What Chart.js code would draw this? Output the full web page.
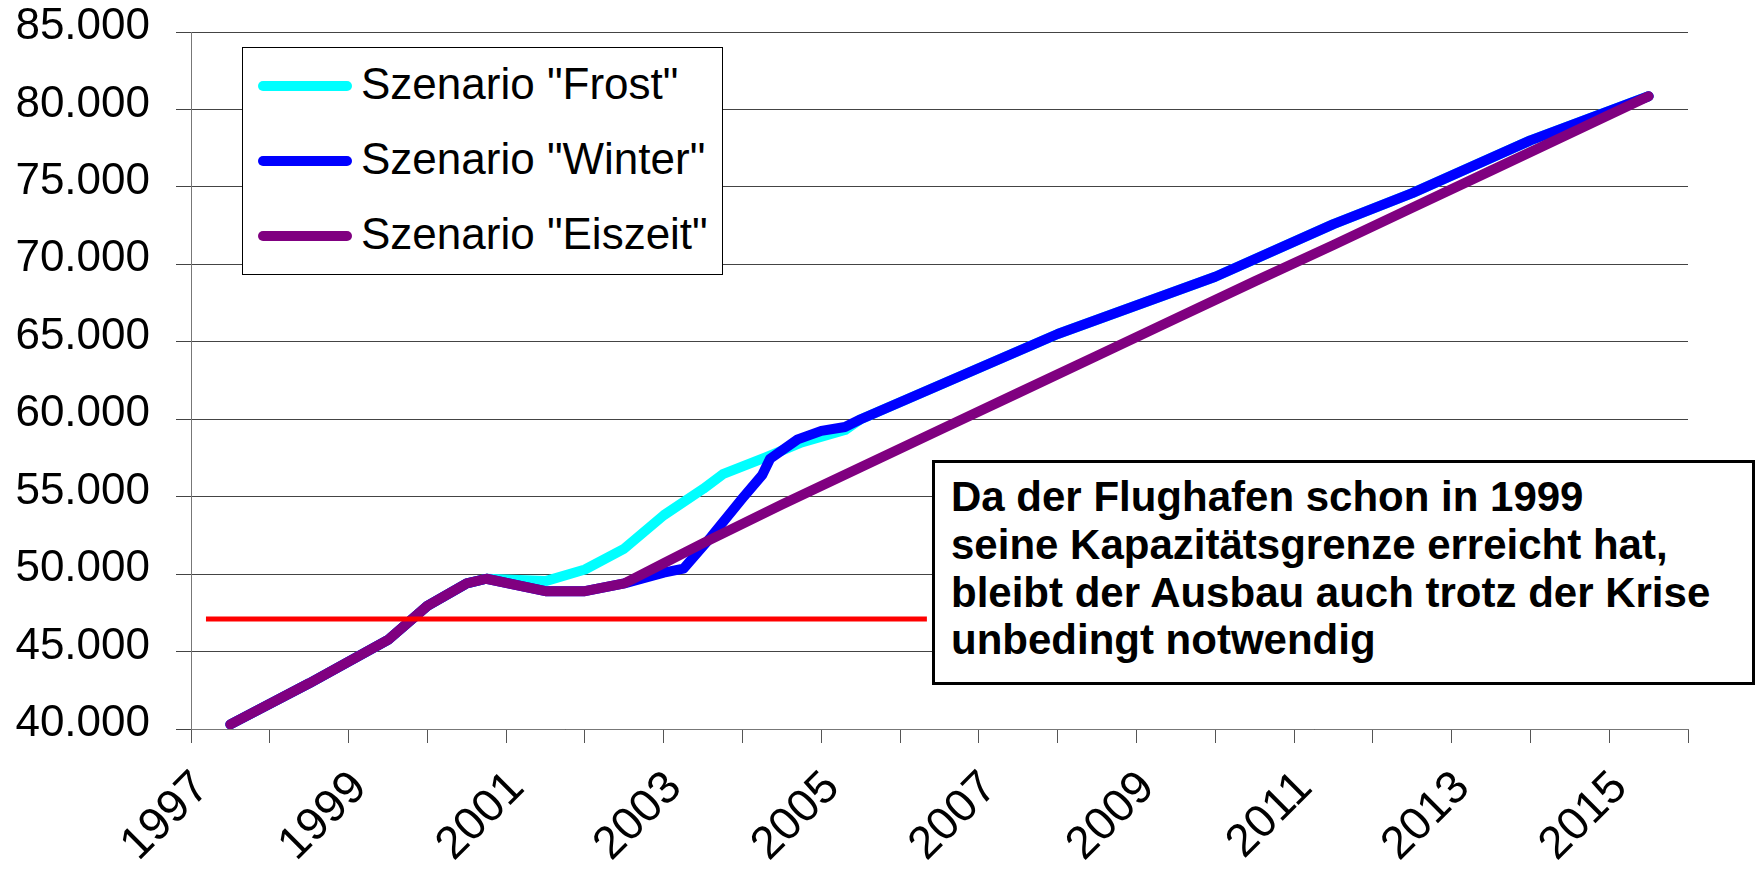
<!DOCTYPE html>
<html lang="de">
<head>
<meta charset="utf-8">
<title>Szenarien Flugbewegungen</title>
<script src="https://cdn.jsdelivr.net/npm/chart.js@4/dist/chart.umd.min.js"></script>
<style>
  body { margin: 0; background: #fff; }
  #wrap { position: relative; width: 1755px; height: 876px; font-family: "Liberation Sans", Arial, sans-serif; }
  #legend { position: absolute; left: 242px; top: 47px; width: 481px; height: 228px; box-sizing: border-box; border: 1px solid #000; background: #fff; }
  .item { position: absolute; left: 15px; height: 75px; display: flex; align-items: center; font-size: 44px; white-space: nowrap; }
  .item span:last-child { position: relative; top: -2px; }
  .swatch { width: 94px; height: 10px; border-radius: 5px; margin-right: 9px; }
  #note { position: absolute; left: 932px; top: 460px; width: 823px; height: 225px; box-sizing: border-box; border: 3px solid #000; background: #fff; padding: 10px 0 0 16px; font-weight: bold; font-size: 42px; line-height: 47.8px; white-space: nowrap; }
</style>
</head>
<body>
<div id="wrap">
  <canvas id="chart" width="1755" height="876"></canvas>
  <div id="legend"></div>
  <div id="note">Da der Flughafen schon in 1999<br>seine Kapazitätsgrenze erreicht hat,<br>bleibt der Ausbau auch trotz der Krise<br>unbedingt notwendig</div>
</div>
<script>
// values (x = year, y = value)
const frostYears = [1997, 1998, 1999, 1999.5, 2000, 2000.25, 2001, 2001.5, 2002, 2002.5, 2003, 2003.25, 2003.8, 2004.25, 2004.8, 2005, 2007.5, 2009.5, 2011, 2012, 2013.5, 2015];
const frostValues = [40300, 42950, 45750, 47950, 49400, 49700, 49550, 50300, 51650, 53800, 55500, 56450, 57550, 58500, 59300, 60000, 65500, 69200, 72600, 74600, 78000, 80850];

const winterYears = [1997, 1998, 1999, 1999.5, 2000, 2000.25, 2001, 2001.5, 2002, 2002.5, 2002.75, 2003.1, 2003.5, 2003.75, 2003.85, 2004.2, 2004.5, 2004.8, 2005, 2007.5, 2009.5, 2011, 2012, 2013.5, 2015];
const winterValues = [40300, 42950, 45750, 47950, 49400, 49700, 48900, 48900, 49400, 50100, 50350, 52400, 54900, 56400, 57450, 58700, 59250, 59500, 60000, 65500, 69200, 72600, 74600, 78000, 80850];

const eiszeitYears = [1997, 1998, 1999, 1999.5, 2000, 2000.25, 2001, 2001.5, 2002, 2002.5, 2003, 2004, 2005, 2006, 2007, 2008, 2009, 2010, 2011, 2012, 2013, 2014, 2015];
const eiszeitValues = [40300, 42950, 45750, 47950, 49400, 49700, 48900, 48900, 49400, 50700, 52000, 54500, 56900, 59300, 61700, 64100, 66500, 68900, 71250, 73650, 76050, 78450, 80850];

// capacity limit line
const limitYears = [1996.69, 2005.84];
const limitValues = [47100, 47100];

const firstYear = 1997;
const lastYear = 2015;
const yMin = 40000;
const yMax = 85000;
const yStep = 5000;

const toPoints = (xs, ys) => xs.map((x, i) => ({ x: x, y: ys[i] }));

// category boundaries get the tick marks; odd years are labelled
const boundaries = [];
for (let y = firstYear - 0.5; y <= lastYear + 0.5; y++) boundaries.push(y);

const htmlLegend = {
  id: 'htmlLegend',
  afterUpdate(chart) {
    const box = document.getElementById('legend');
    box.innerHTML = '';
    chart.data.datasets.filter(ds => ds.inLegend).forEach((ds, i) => {
      const item = document.createElement('div');
      item.className = 'item';
      item.style.top = (i * 75) + 'px';
      const swatch = document.createElement('span');
      swatch.className = 'swatch';
      swatch.style.background = ds.borderColor;
      const text = document.createElement('span');
      text.textContent = ds.label;
      item.append(swatch, text);
      box.appendChild(item);
    });
  }
};

Chart.defaults.font.family = '"Liberation Sans", Arial, sans-serif';
Chart.defaults.font.size = 44;
Chart.defaults.color = '#000';

const lineStyle = { borderWidth: 10, pointRadius: 0, borderCapStyle: 'round', borderJoinStyle: 'round', tension: 0, fill: false };

new Chart(document.getElementById('chart').getContext('2d'), {
  type: 'line',
  data: {
    datasets: [
      Object.assign({ label: 'Szenario "Frost"', data: toPoints(frostYears, frostValues), borderColor: '#00FFFF', order: 3, inLegend: true }, lineStyle),
      Object.assign({ label: 'Szenario "Winter"', data: toPoints(winterYears, winterValues), borderColor: '#0000FF', order: 2, inLegend: true }, lineStyle),
      Object.assign({ label: 'Szenario "Eiszeit"', data: toPoints(eiszeitYears, eiszeitValues), borderColor: '#800080', order: 1, inLegend: true }, lineStyle),
      { label: 'Kapazitätsgrenze', data: toPoints(limitYears, limitValues), borderColor: '#FF0000', borderWidth: 5, pointRadius: 0, order: 0, inLegend: false }
    ]
  },
  options: {
    responsive: false,
    animation: false,
    layout: { padding: { top: 0, right: 67, bottom: 0, left: 0 } },
    plugins: { legend: { display: false }, tooltip: { enabled: false } },
    scales: {
      x: {
        type: 'linear',
        min: firstYear - 0.5,
        max: lastYear + 0.5,
        afterBuildTicks: axis => { axis.ticks = boundaries.map(v => ({ value: v })); },
        afterFit: axis => { axis.height = 147; },
        grid: { drawOnChartArea: false, tickLength: 14, color: '#555' },
        border: { color: '#777' },
        ticks: {
          autoSkip: false,
          minRotation: 45,
          maxRotation: 45,
          padding: 18,
          labelOffset: 11,
          font: { size: 46 },
          callback: v => {
            const year = Math.round(v + 0.5);
            return year % 2 === 1 && year <= lastYear ? String(year) : '';
          }
        }
      },
      y: {
        min: yMin,
        max: yMax,
        afterFit: axis => {
          axis.width = 191;
          axis.paddingTop = 32;
          axis.paddingBottom = 0;
        },
        grid: { color: '#444', tickLength: 15 },
        border: { color: '#777' },
        ticks: {
          stepSize: yStep,
          padding: 26,
          labelOffset: -5,
          callback: v => (v / 1000).toFixed(3)
        }
      }
    }
  },
  plugins: [htmlLegend]
});
</script>
</body>
</html>
